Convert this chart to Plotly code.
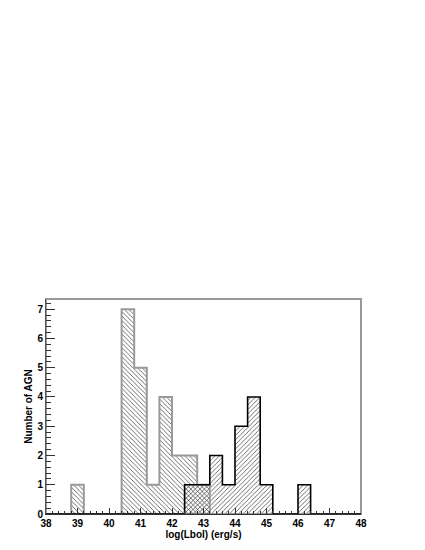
import numpy as np
import plotly.graph_objects as go

# Bin edges (log Lbol, erg/s), width 0.4 from 38 to 48
bin_edges = [round(38 + 0.4 * i, 1) for i in range(26)]
# Low-luminosity sample (grey outline, "\\" hatch)
counts_a = [0, 0, 1, 0, 0, 0, 7, 5, 1, 4, 2, 2, 1, 0, 0, 0, 0, 0, 0, 0, 0, 0, 0, 0, 0]
# High-luminosity sample (black outline, "/" hatch)
counts_b = [0, 0, 0, 0, 0, 0, 0, 0, 0, 0, 0, 1, 1, 2, 1, 3, 4, 1, 0, 0, 1, 0, 0, 0, 0]

x_title = "log(Lbol) (erg/s)"
y_title = "Number of AGN"

edges = np.array(bin_edges)
centers = (edges[:-1] + edges[1:]) / 2
widths = np.diff(edges)

fig = go.Figure()

fig.add_trace(go.Bar(
    x=centers, y=counts_a, width=widths,
    marker=dict(color="rgba(0,0,0,0)", line=dict(width=0),
                pattern=dict(shape="\\", fgcolor="#333", size=3.2, solidity=0.22, fillmode="replace")),
    showlegend=False, hoverinfo="skip"))
fig.add_trace(go.Scatter(
    x=edges, y=list(counts_a) + [counts_a[-1]], mode="lines", line_shape="hv",
    line=dict(color="#999", width=2), showlegend=False, hoverinfo="skip"))

fig.add_trace(go.Bar(
    x=centers, y=counts_b, width=widths,
    marker=dict(color="rgba(0,0,0,0)", line=dict(width=0),
                pattern=dict(shape="/", fgcolor="#333", size=3.2, solidity=0.22, fillmode="replace")),
    showlegend=False, hoverinfo="skip"))
fig.add_trace(go.Scatter(
    x=edges, y=list(counts_b) + [counts_b[-1]], mode="lines", line_shape="hv",
    line=dict(color="#000", width=1.6), showlegend=False, hoverinfo="skip"))

font = dict(family="Liberation Sans, Arial, sans-serif", size=10, color="black", weight="bold")

fig.update_layout(
    width=425, height=550,
    margin=dict(l=38, r=72, t=291, b=44),
    paper_bgcolor="white", plot_bgcolor="white",
    barmode="overlay", bargap=0,
    font=font,
    shapes=[dict(type="rect", xref="paper", yref="paper", x0=0, x1=1, y0=0, y1=1,
                 line=dict(color="#999", width=2), layer="below")],
    xaxis=dict(range=[38, 48], tickmode="linear", tick0=38, dtick=1,
               ticks="inside", ticklen=6, tickwidth=1, tickcolor="#333",
               minor=dict(ticks="inside", ticklen=3, dtick=0.2, tick0=38, tickcolor="#333"),
               showgrid=False, zeroline=False, showline=True, linecolor="#333", linewidth=1,
               title=dict(text=x_title, standoff=1, font=font), tickfont=font),
    yaxis=dict(range=[0, 7.35], tickmode="linear", tick0=0, dtick=1,
               ticks="inside", ticklen=9, tickwidth=1, tickcolor="#333",
               minor=dict(ticks="inside", ticklen=5, dtick=0.2, tick0=0, tickcolor="#333"),
               showgrid=False, zeroline=False, showline=True, linecolor="#555", linewidth=1,
               title=dict(text=y_title, standoff=2, font=font), tickfont=font),
)

fig.write_html("out.html")
